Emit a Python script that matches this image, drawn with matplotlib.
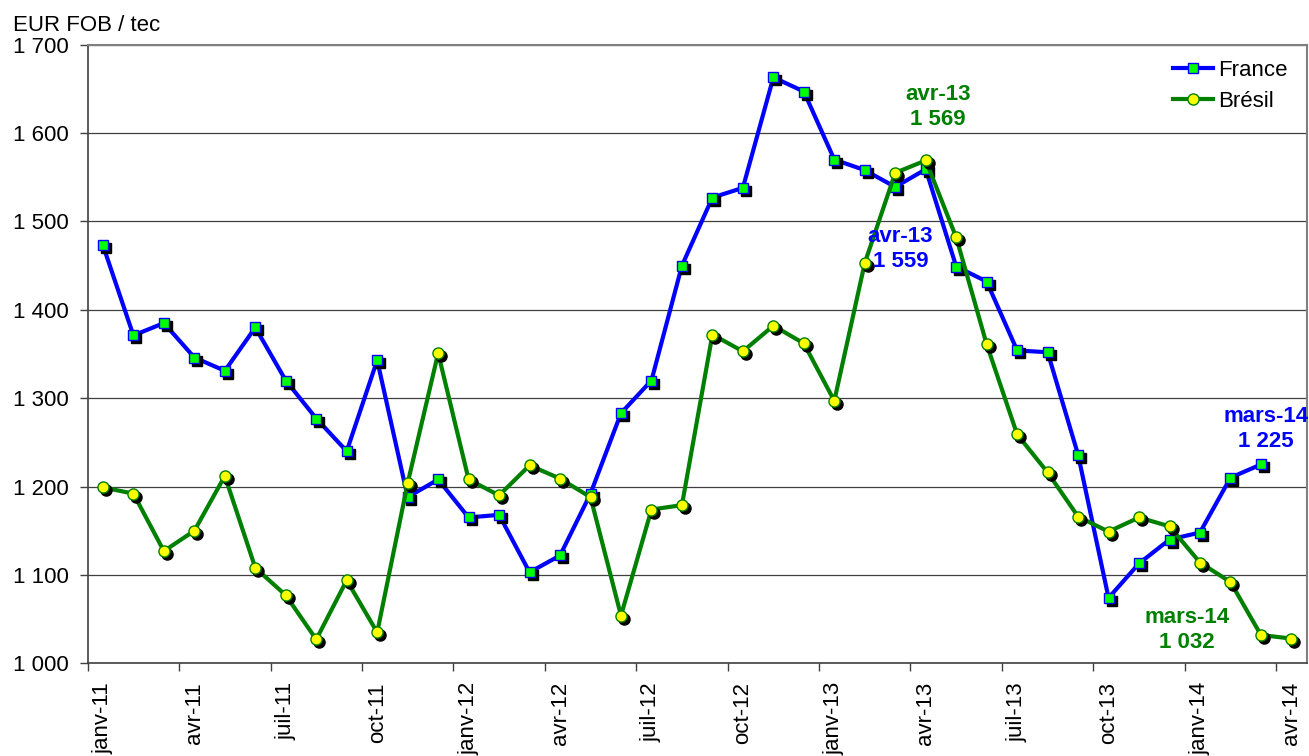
import matplotlib
matplotlib.use('Agg')
import matplotlib.pyplot as plt
from matplotlib.transforms import offset_copy

plt.rcParams['font.family'] = ['Liberation Sans', 'DejaVu Sans']

# ---- data (monthly, janv-11 .. mars-14 / avr-14) ----
tick_labels = ['janv-11', 'avr-11', 'juil-11', 'oct-11',
               'janv-12', 'avr-12', 'juil-12', 'oct-12',
               'janv-13', 'avr-13', 'juil-13', 'oct-13',
               'janv-14', 'avr-14']

france = [1473, 1371, 1385, 1346, 1331, 1380, 1320, 1277, 1240, 1343,
          1188, 1208, 1165, 1168, 1103, 1122, 1192, 1283, 1320, 1450,
          1527, 1538, 1663, 1647, 1570, 1558, 1539, 1559, 1449, 1432,
          1354, 1352, 1236, 1074, 1113, 1140, 1148, 1210, 1225]

bresil = [1199, 1192, 1127, 1150, 1212, 1108, 1077, 1027, 1094, 1035,
          1204, 1351, 1208, 1190, 1224, 1209, 1188, 1054, 1174, 1179,
          1372, 1353, 1382, 1362, 1297, 1453, 1555, 1569, 1482, 1361,
          1259, 1216, 1166, 1149, 1165, 1155, 1114, 1092, 1032, 1028]

y_ticks = [1000, 1100, 1200, 1300, 1400, 1500, 1600, 1700]

annotations = [
    ('avr-13\n1 569', 27.9, 1630, '#008000'),
    ('avr-13\n1 559', 26.67, 1469, '#0000FF'),
    ('mars-14\n1 225', 38.66, 1265, '#0000FF'),
    ('mars-14\n1 032', 36.06, 1038, '#008000'),
]

# ---- figure ----
fig = plt.figure(figsize=(13.09, 7.56), dpi=100)
ax = fig.add_axes([0.0670, 0.1226, 0.9312, 0.8183])

xf = [i + 0.5 for i in range(len(france))]
xb = [i + 0.5 for i in range(len(bresil))]

shadow = offset_copy(ax.transData, fig=fig, x=3, y=-3, units='dots')

# France
ax.plot(xf, france, color='#0000FF', lw=3, zorder=3, solid_joinstyle='round')
ax.plot(xf, france, ls='none', marker='s', ms=7.8, mfc='black', mec='black',
        transform=shadow, zorder=4)
ax.plot(xf, france, ls='none', marker='s', ms=7.8, mfc='#00FF00', mec='#0000FF',
        mew=1.0, zorder=5)

# Bresil
ax.plot(xb, bresil, color='#008000', lw=3, zorder=6, solid_joinstyle='round')
ax.plot(xb, bresil, ls='none', marker='o', ms=8, mfc='black', mec='black',
        transform=shadow, zorder=7)
ax.plot(xb, bresil, ls='none', marker='o', ms=8, mfc='#FFFF00', mec='#008000',
        mew=1.0, zorder=8)

# legend handles
h1, = ax.plot([], [], color='#0000FF', lw=3, marker='s', ms=7.8,
              mfc='#00FF00', mec='#0000FF', mew=1.0, label='France')
h2, = ax.plot([], [], color='#008000', lw=3, marker='o', ms=8,
              mfc='#FFFF00', mec='#008000', mew=1.0, label='Brésil')
ax.legend(handles=[h1, h2], loc='upper right',
          bbox_to_anchor=(1288 / 1309, 1 - 60 / 756),
          bbox_transform=fig.transFigure, frameon=False, fontsize=16,
          handlelength=1.8, handletextpad=0.25, labelspacing=0.45,
          borderpad=0, borderaxespad=0)

# annotations
for txt, x, y, c in annotations:
    ax.text(x, y, txt, ha='center', va='center', fontsize=16,
            fontweight='bold', color=c, linespacing=1.25, zorder=10,
            clip_on=False)

# axes
ax.set_xlim(0, 40)
ax.set_ylim(1000, 1700)

major_x = list(range(0, 3 * len(tick_labels), 3))
ax.set_xticks(major_x)
ax.set_xticklabels([])
ax.set_xticks([m + 0.5 for m in major_x], minor=True)
ax.set_xticklabels(tick_labels, minor=True, rotation=90, fontsize=16)
ax.tick_params(axis='x', which='major', direction='out', length=5.5,
               width=1, color='#404040')
ax.tick_params(axis='x', which='minor', length=0, pad=13.5)

ax.set_yticks(y_ticks)
ax.set_yticklabels(['{:,}'.format(v).replace(',', ' ') for v in y_ticks],
                   fontsize=16)
ax.tick_params(axis='y', direction='out', length=5.8, width=1,
               color='#404040', pad=7.5)

ax.grid(axis='y', color='#404040', lw=0.9)
ax.set_axisbelow(True)

ax.spines['left'].set_color('#404040')
ax.spines['bottom'].set_color('#404040')
ax.spines['left'].set_linewidth(1.2)
ax.spines['bottom'].set_linewidth(1.2)
ax.spines['top'].set_color('#808080')
ax.spines['right'].set_color('#808080')
ax.spines['top'].set_linewidth(1.5)
ax.spines['right'].set_linewidth(1.5)

fig.text(12.7 / 1309, 1 - 31 / 756, 'EUR FOB / tec', fontsize=16,
         ha='left', va='baseline')

fig.savefig('out.png', dpi=100)
